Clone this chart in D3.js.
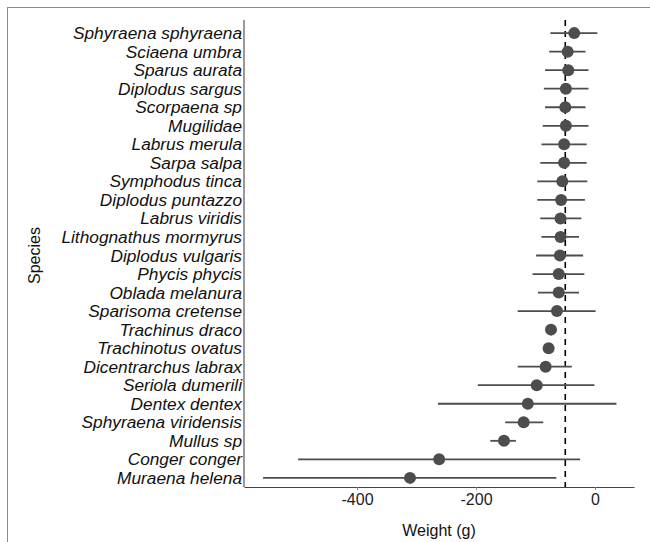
<!DOCTYPE html>
<html>
<head>
<meta charset="utf-8">
<script src="https://cdn.jsdelivr.net/npm/d3@7"></script>
<style>
  html, body { margin: 0; padding: 0; background: #fff; }
  svg { display: block; }
</style>
</head>
<body>
<svg id="chart" width="650" height="542"></svg>
<script>
const species = [
  "Sphyraena sphyraena","Sciaena umbra","Sparus aurata","Diplodus sargus","Scorpaena sp",
  "Mugilidae","Labrus merula","Sarpa salpa","Symphodus tinca","Diplodus puntazzo",
  "Labrus viridis","Lithognathus mormyrus","Diplodus vulgaris","Phycis phycis","Oblada melanura",
  "Sparisoma cretense","Trachinus draco","Trachinotus ovatus","Dicentrarchus labrax","Seriola dumerili",
  "Dentex dentex","Sphyraena viridensis","Mullus sp","Conger conger","Muraena helena"
];
const estimate = [-35,-46,-45,-49,-50,-49,-52,-52,-55,-57,-58,-58,-59,-61,-61,-64,-74,-78,-83,-98,-113,-120,-153,-262,-311];
const lower    = [-75,-77,-84,-86,-84,-88,-90,-92,-97,-97,-92,-90,-99,-105,-96,-130,null,null,-130,-197,-264,-151,-176,-499,-558];
const upper    = [4,-16,-11,-11,-16,-11,-14,-14,-13,-17,-23,-27,-20,-18,-27,1,null,null,-39,-1,36,-87,-133,-25,-65];
const refLine = -50;
const xTicks = [-400, -200, 0];
const xTitle = "Weight (g)";
const yTitle = "Species";

const svg = d3.select("#chart");
const font = "'Liberation Sans', Arial, sans-serif";

// outer frame
svg.append("rect").attr("x", 7.5).attr("y", 7.5).attr("width", 700).attr("height", 700)
  .attr("fill", "none").attr("stroke", "#8c8c8c").attr("stroke-width", 1);

const L = 244, R = 634, T = 20, B = 487;
const x = d3.scaleLinear().domain([-590, 65.5]).range([L, R]);
const y = d3.scalePoint().domain(species).range([T + 2, B + 2]).padding(0.6);

// dashed reference line
svg.append("line").attr("x1", x(refLine)).attr("x2", x(refLine)).attr("y1", T).attr("y2", B)
  .attr("stroke", "#000").attr("stroke-width", 1.6).attr("stroke-dasharray", "6,5");

const rows = species.map((s, i) => ({s, e: estimate[i], lo: lower[i], hi: upper[i]}));

svg.append("g").selectAll("line").data(rows.filter(d => d.lo !== null)).join("line")
  .attr("x1", d => x(d.lo)).attr("x2", d => x(d.hi))
  .attr("y1", d => y(d.s)).attr("y2", d => y(d.s))
  .attr("stroke", "#4d4d4d").attr("stroke-width", 1.8);

svg.append("g").selectAll("circle").data(rows).join("circle")
  .attr("cx", d => x(d.e)).attr("cy", d => y(d.s)).attr("r", 6)
  .attr("fill", "#4d4d4d");

// axes
const xAxis = svg.append("g").attr("transform", `translate(0,${B})`)
  .call(d3.axisBottom(x).tickValues(xTicks).tickSize(3).tickSizeOuter(0).tickFormat(d => d));
xAxis.select(".domain").attr("stroke", "#444").attr("stroke-width", 1.1);
xAxis.selectAll(".tick line").attr("stroke", "#888");
xAxis.selectAll("text").attr("font-family", font).attr("font-size", 16).attr("fill", "#222").attr("dy", "0.78em");

const yAxis = svg.append("g").attr("transform", `translate(${L},0)`)
  .call(d3.axisLeft(y).tickSize(0).tickSizeOuter(0).tickPadding(2));
yAxis.select(".domain").remove();
yAxis.selectAll("text").attr("font-family", font).attr("font-size", 17.3)
  .attr("font-style", "italic").attr("fill", "#111");
svg.append("line").attr("x1", L).attr("x2", L).attr("y1", T).attr("y2", B)
  .attr("stroke", "#444").attr("stroke-width", 1.1);

// titles
svg.append("text").attr("x", (L + R) / 2).attr("y", 536).attr("text-anchor", "middle")
  .attr("font-family", font).attr("font-size", 16).attr("fill", "#111").text(xTitle);
svg.append("text").attr("transform", `translate(40,${(T + B) / 2 + 2}) rotate(-90)`)
  .attr("text-anchor", "middle").attr("font-family", font).attr("font-size", 16)
  .attr("fill", "#111").text(yTitle);
</script>
</body>
</html>
